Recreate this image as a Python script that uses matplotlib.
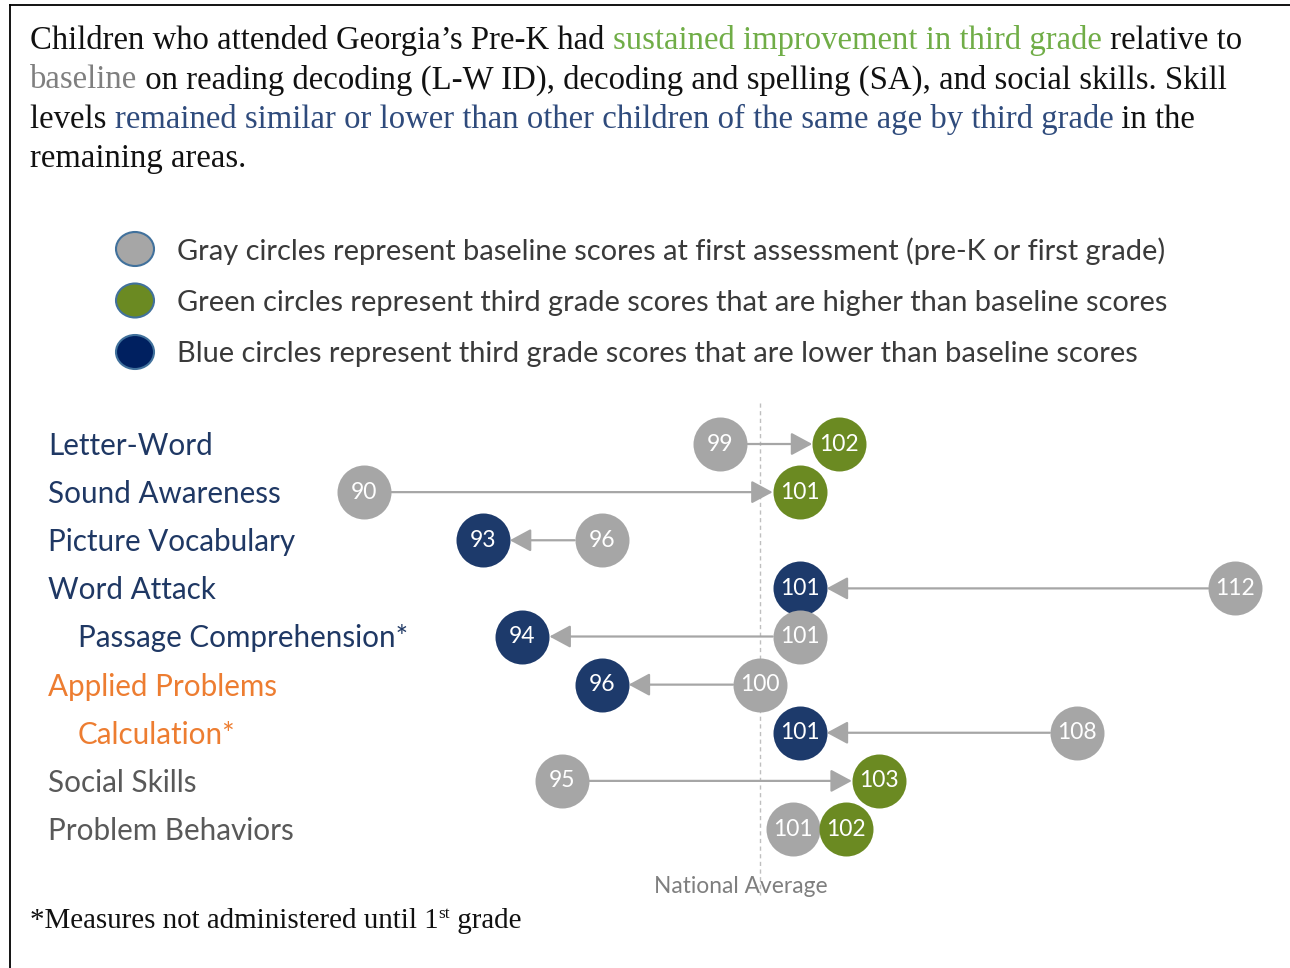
import matplotlib
matplotlib.use("Agg")
import matplotlib.pyplot as plt
import matplotlib.transforms as mtransforms
from matplotlib.patches import Ellipse

# data
measures = ["Letter-Word", "Sound Awareness", "Picture Vocabulary", "Word Attack",
            "Passage Comprehension*", "Applied Problems", "Calculation*",
            "Social Skills", "Problem Behaviors"]
baseline = [99, 90, 96, 112, 101, 100, 108, 95, 101]
third_grade = [102, 101, 93, 101, 94, 96, 101, 103, 102]
indented = [False, False, False, False, True, False, True, False, False]
label_colors = ["#1f3864"] * 5 + ["#ed7d31"] * 2 + ["#595959"] * 2
national_avg = 100

legend_items = [
    ("Gray circles represent baseline scores at first assessment (pre-K or first grade)", "#a6a6a6"),
    ("Green circles represent third grade scores that are higher than baseline scores", "#6b8a22"),
    ("Blue circles represent third grade scores that are lower than baseline scores", "#002060"),
]

BLACK = "#111111"
GRAY = "#a6a6a6"
GREEN = "#6b8a22"
BLUE = "#1d3a6b"
SERIF = "Liberation Serif"
SANS = "Lato"

title_lines = [
    [("Children who attended Georgia\u2019s Pre-K had ", BLACK),
     ("sustained improvement in third grade", "#70ad47"), (" relative to", BLACK)],
    [("baseline", "#7f7f7f"),
     (" on reading decoding (L-W ID), decoding and spelling (SA), and social skills. Skill", BLACK)],
    [("levels ", BLACK),
     ("remained similar or lower than other children of the same age by third grade", "#2f4b7c"),
     (" in the", BLACK)],
    [("remaining areas.", BLACK)],
]

fig = plt.figure(figsize=(12.9, 9.68), dpi=100)
# pixel axes for text and frame
px = fig.add_axes([0, 0, 1, 1])
px.set_xlim(0, 1290)
px.set_ylim(968, 0)
px.axis("off")
# data axes for the dumbbells
ax = fig.add_axes([0, 0, 1, 1], zorder=2)
ax.patch.set_alpha(0)
ax.axis("off")
ax.set_xlim(80.81, 113.38)
ax.set_ylim(10.888, -9.226)

renderer = fig.canvas.get_renderer()


def width_px(t):
    return t.get_window_extent(renderer).width


def fit_size(s, family, target):
    t = px.text(0, 0, s, fontsize=20, family=family)
    w = width_px(t)
    t.remove()
    return 20 * target / w


def draw_runs(x, y, parts, size, family):
    for s, c in parts:
        t = px.text(x, y, s, color=c, fontsize=size, family=family, va="baseline")
        x += width_px(t)
    return x


# frame
px.plot([10, 1290], [5, 5], color="black", lw=1.3, clip_on=False)
px.plot([10, 10], [5, 968], color="black", lw=1.3, clip_on=False)

# title
tsize = fit_size("".join(s for s, _ in title_lines[0]), SERIF, 1213)
for i, parts in enumerate(title_lines):
    draw_runs(30, 49 + 39.3 * i, parts, tsize, SERIF)

# legend
lsize = fit_size(legend_items[0][0], SANS, 993)
for i, (txt, col) in enumerate(legend_items):
    y = 249 + 51.5 * i
    px.add_patch(Ellipse((135, y), 38, 34, facecolor=col, edgecolor="#41719c", lw=1.5))
    px.text(177, y + 2, txt, fontsize=lsize, family=SANS, color="#3a3a3a", va="center")

# row labels
rsize = fit_size("Picture Vocabulary", SANS, 247)
for i, name in enumerate(measures):
    x = 78 if indented[i] else 48
    y = 444 + 48.125 * i
    px.text(x, y + 2, name, fontsize=rsize, family=SANS, color=label_colors[i], va="center")

# national average reference line
ax.plot([national_avg, national_avg], [-0.85, 9.37], color="#bfbfbf", lw=1,
        dashes=(3, 2.5), zorder=1)
nsize = fit_size("National Average", SANS, 173)
ax.annotate("National Average", (national_avg, 9.25), xytext=(-14, 2),
            textcoords="offset points", ha="center", va="center",
            fontsize=nsize, family=SANS, color="#7f7f7f")

# dumbbells
rows = list(range(len(measures)))
csize = 16.5
radius_pt = 27 * 72 / 100
for i in rows:
    b, t = baseline[i], third_grade[i]
    col = GREEN if t > b else BLUE
    # nudge touching circles apart so both numbers stay readable
    nudge = 5 if abs(t - b) <= 1.5 else 0
    tr_b = mtransforms.offset_copy(ax.transData, fig=fig, x=-nudge, y=0, units="points")
    tr_t = mtransforms.offset_copy(ax.transData, fig=fig, x=nudge, y=0, units="points")
    if not nudge:
        ax.annotate("", xy=(t, i), xytext=(b, i),
                    arrowprops=dict(arrowstyle="-|>,head_length=0.65,head_width=0.35",
                                    color=GRAY, lw=1.6, mutation_scale=20,
                                    shrinkA=radius_pt, shrinkB=radius_pt),
                    zorder=3)
    ax.scatter([b], [i], s=(2 * radius_pt) ** 2, color=GRAY, linewidths=0,
               zorder=4 + i, transform=tr_b)
    ax.scatter([t], [i], s=(2 * radius_pt) ** 2, color=col, linewidths=0,
               zorder=4 + i, transform=tr_t)
    ax.text(b, i, str(b), color="white", fontsize=csize, family=SANS,
            ha="center", va="center", zorder=30, transform=tr_b)
    ax.text(t, i, str(t), color="white", fontsize=csize, family=SANS,
            ha="center", va="center", zorder=30, transform=tr_t)

# footnote
fsize = fit_size("*Measures not administered until 1st grade", SERIF, 500)
x = draw_runs(30, 928, [("*Measures not administered until 1", BLACK)], fsize, SERIF)
t = px.text(x, 918, "st", fontsize=fsize * 0.6, family=SERIF, color=BLACK, va="baseline")
x += width_px(t)
draw_runs(x, 928, [(" grade", BLACK)], fsize, SERIF)

fig.savefig("out.png", dpi=100)
